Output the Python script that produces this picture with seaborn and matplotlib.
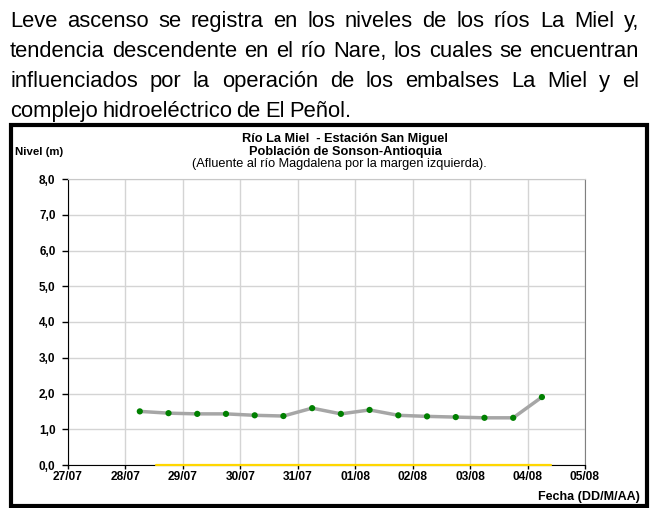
import pandas as pd
import seaborn as sns
import matplotlib.pyplot as plt
import matplotlib.dates as mdates
from matplotlib.patches import Rectangle

# datos (nivel en m, cada 12 h)
fechas = ["2011-07-28 06:00", "2011-07-28 18:00", "2011-07-29 06:00", "2011-07-29 18:00",
          "2011-07-30 06:00", "2011-07-30 18:00", "2011-07-31 06:00", "2011-07-31 18:00",
          "2011-08-01 06:00", "2011-08-01 18:00", "2011-08-02 06:00", "2011-08-02 18:00",
          "2011-08-03 06:00", "2011-08-03 18:00", "2011-08-04 06:00"]
niveles = [1.50, 1.45, 1.43, 1.43, 1.39, 1.37, 1.59, 1.43, 1.54, 1.39, 1.36, 1.34, 1.32, 1.32, 1.90]

# serie amarilla (cota cero)
fechas_ref = ["2011-07-28 12:45", "2011-08-04 10:00"]
niveles_ref = [0.0, 0.0]

yticks = [0, 1, 2, 3, 4, 5, 6, 7, 8]
ytick_labels = ["0,0", "1,0", "2,0", "3,0", "4,0", "5,0", "6,0", "7,0", "8,0"]

parrafo = ["Leve ascenso se registra en los niveles de los ríos La Miel y,",
           "tendencia descendente en el río Nare, los cuales se encuentran",
           "influenciados por la operación de los embalses La Miel y el",
           "complejo hidroeléctrico de El Peñol."]

df = pd.DataFrame({"Fecha": pd.to_datetime(fechas), "Nivel": niveles})
df_ref = pd.DataFrame({"Fecha": pd.to_datetime(fechas_ref), "Nivel": niveles_ref})

sns.set_style("white")
plt.rcParams['font.family'] = ['Liberation Sans', 'DejaVu Sans']
plt.rcParams['text.color'] = 'black'
plt.rcParams['xtick.color'] = 'black'
plt.rcParams['ytick.color'] = 'black'

W, H = 650, 508
fig = plt.figure(figsize=(6.5, 5.08), dpi=100)
ax = fig.add_axes([68 / W, 1 - 465 / H, (585 - 68) / W, (465 - 179) / H])

sns.lineplot(data=df, x="Fecha", y="Nivel", ax=ax, color="#a6a6a6", linewidth=2.5, zorder=4)
sns.scatterplot(data=df, x="Fecha", y="Nivel", ax=ax, color="#008000", s=20, edgecolor="none", zorder=5)
sns.lineplot(data=df_ref, x="Fecha", y="Nivel", ax=ax, color="#ffd700", linewidth=1.6, zorder=6)
for ln in ax.lines:
    ln.set_clip_on(False)

ax.set_xlim(pd.Timestamp("2011-07-27"), pd.Timestamp("2011-08-05"))
ax.set_ylim(0, 8)
ax.xaxis.set_major_locator(mdates.DayLocator())
ax.xaxis.set_major_formatter(mdates.DateFormatter("%d/%m"))
ax.set_yticks(yticks)
ax.set_yticklabels(ytick_labels)
ax.set_xlabel("")
ax.set_ylabel("")
ax.grid(True, color="#d4d4d4", linewidth=1)
ax.set_axisbelow(True)
for lab in ax.get_xticklabels():
    lab.set_fontweight("bold")
    lab.set_fontsize(8.6)
for lab in ax.get_yticklabels():
    lab.set_fontweight("bold")
    lab.set_fontsize(8.5)
ax.tick_params(axis="x", direction="out", length=3, width=1, pad=1.2, bottom=True)
ax.tick_params(axis="y", direction="out", length=4, width=1, pad=5, left=True)
ax.spines["left"].set_color("black")
ax.spines["bottom"].set_color("black")
ax.spines["right"].set_color("#808080")
ax.spines["top"].set_color("#c8c8c8")

# marco del grafico
fig.patches.append(Rectangle((11 / W, 1 - 506 / H), (647 - 11) / W, (506 - 125) / H,
                             transform=fig.transFigure, fill=False, edgecolor="black", linewidth=3))

fig.text(15 / W, 1 - 152 / H, "Nivel (m)", fontsize=8.2, fontweight="bold", va="center")
fig.text(640 / W, 1 - 497 / H, "Fecha (DD/M/AA)", fontsize=9, fontweight="bold", va="center", ha="right")
fig.text(345 / W, 1 - 139 / H, "Río La Miel  - Estación San Miguel", fontsize=9.2, fontweight="bold", ha="center", va="center")
fig.text(345 / W, 1 - 151.5 / H, "Población de Sonson-Antioquia", fontsize=9.2, fontweight="bold", ha="center", va="center")
fig.text(339 / W, 1 - 164 / H, "(Afluente al río Magdalena por la margen izquierda).", fontsize=9.2, ha="center", va="center")

# parrafo justificado: tamano ajustado para que la linea mas larga quepa
fig.canvas.draw()
r = fig.canvas.get_renderer()
x0, x1 = 10, 639
prueba = [fig.text(0, 0, l, fontsize=13) for l in parrafo[:3]]
ancho_max = max(t.get_window_extent(r).width for t in prueba)
for t in prueba:
    t.remove()
fs = 13 * (x1 - x0 - 8) / ancho_max

for i, linea in enumerate(parrafo):
    y = 1 - (27 + 29.9 * i) / H
    palabras = linea.split()
    txts = [fig.text(0, y, p, fontsize=fs, va="baseline") for p in palabras]
    anchos = [t.get_window_extent(r).width for t in txts]
    if i < len(parrafo) - 1:
        gap = (x1 - x0 - sum(anchos)) / (len(palabras) - 1)
    else:
        gap = fs * 0.28
    x = x0
    for t, a in zip(txts, anchos):
        t.set_x(x / W)
        x += a + gap

fig.savefig("out.png", dpi=100)
